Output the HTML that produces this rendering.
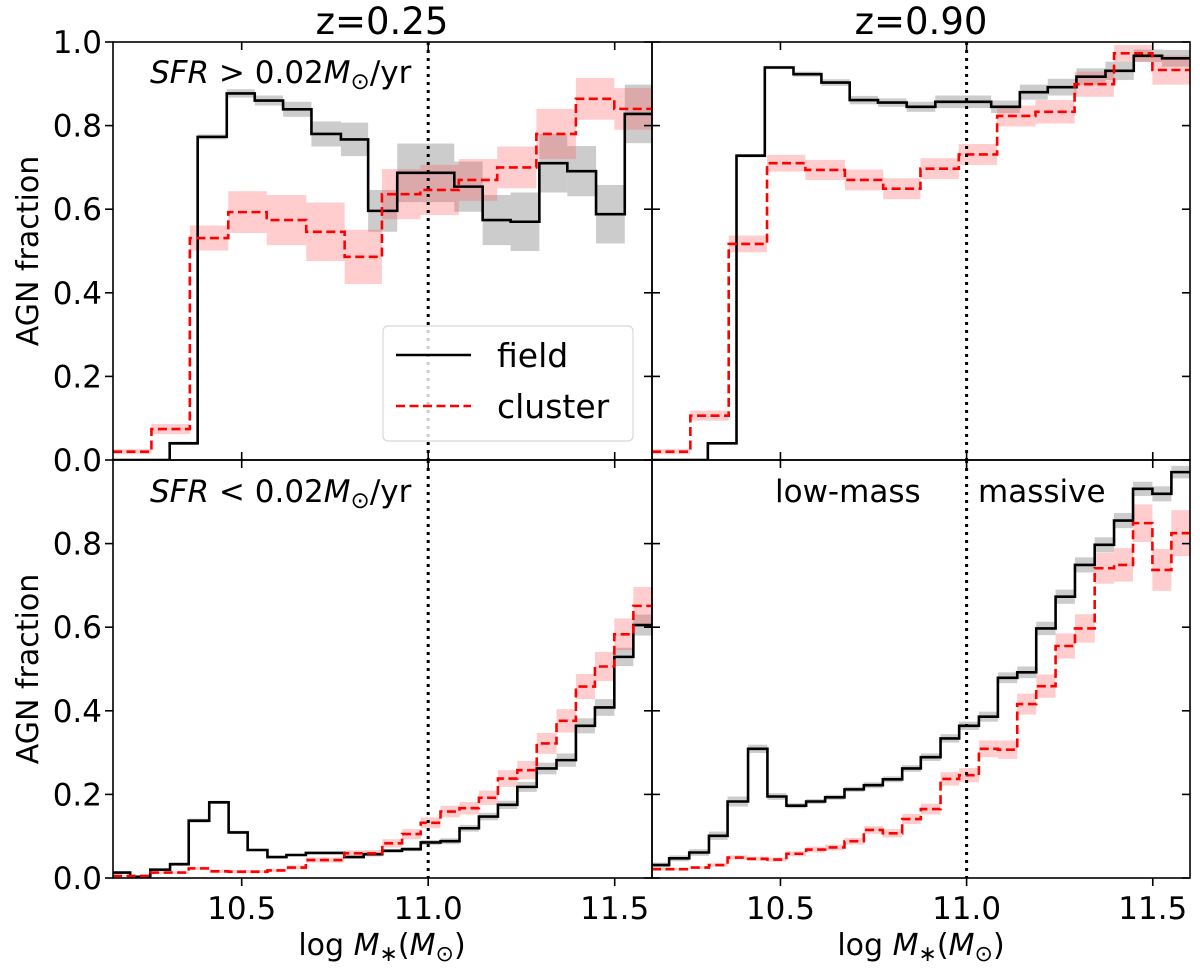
<!DOCTYPE html>
<html><head><meta charset="utf-8">
<style>
html,body{margin:0;padding:0;background:#fff;}
svg{display:block;font-family:"DejaVu Sans","Liberation Sans",sans-serif;}
</style></head>
<body>
<svg id="chart" width="1200" height="969" viewBox="0 0 1200 969" xmlns="http://www.w3.org/2000/svg"></svg>
<script>
// ---- data ----
const xTicks = [10.5, 11.0, 11.5];
const xTickLabels = ["10.5", "11.0", "11.5"];
const yTicksTop = [0, 0.2, 0.4, 0.6, 0.8, 1.0];
const yTickLabelsTop = ["0.0", "0.2", "0.4", "0.6", "0.8", "1.0"];
const yTicksBot = [0, 0.2, 0.4, 0.6, 0.8];
const yTickLabelsBot = ["0.0", "0.2", "0.4", "0.6", "0.8"];

const edgesTL_field = [10.155,10.307,10.382,10.460,10.535,10.611,10.687,10.766,10.839,10.917,11.070,11.146,11.221,11.298,11.373,11.450,11.527,11.6];
const valsTL_field = [0,0.04,0.773,0.877,0.86,0.839,0.78,0.767,0.596,0.687,0.654,0.574,0.57,0.71,0.691,0.588,0.828];
const errsTL_field = [0,0.004,0.006,0.01,0.012,0.018,0.03,0.04,0.05,0.07,0.06,0.06,0.07,0.07,0.06,0.07,0.07];

const edgesTop_cluster = [10.155,10.258,10.361,10.464,10.567,10.673,10.776,10.876,10.979,11.082,11.185,11.290,11.396,11.499,11.6];
const valsTL_cluster = [0.02,0.074,0.531,0.593,0.574,0.546,0.486,0.636,0.646,0.67,0.70,0.78,0.864,0.84];
const errsTL_cluster = [0.006,0.012,0.03,0.05,0.06,0.07,0.065,0.06,0.06,0.05,0.05,0.06,0.05,0.05];

const edgesTR_field = [10.155,10.305,10.382,10.458,10.535,10.610,10.686,10.762,10.839,10.916,11.066,11.143,11.218,11.295,11.373,11.449,11.525,11.6];
const valsTR_field = [0,0.04,0.728,0.939,0.923,0.903,0.861,0.855,0.845,0.857,0.845,0.88,0.892,0.917,0.931,0.967,0.961];
const errsTR_field = [0,0.003,0.004,0.004,0.006,0.008,0.01,0.01,0.012,0.015,0.015,0.018,0.02,0.02,0.022,0.015,0.02];

const valsTR_cluster = [0.02,0.106,0.517,0.71,0.694,0.67,0.649,0.697,0.731,0.823,0.833,0.899,0.973,0.933];
const errsTR_cluster = [0.006,0.012,0.02,0.02,0.024,0.025,0.025,0.025,0.025,0.025,0.028,0.03,0.02,0.035];

const edgesBot = [10.155,10.201,10.255,10.308,10.358,10.413,10.465,10.516,10.569,10.620,10.672,10.724,10.775,10.827,10.877,10.930,10.980,11.033,11.084,11.136,11.187,11.239,11.291,11.344,11.396,11.447,11.499,11.550,11.6];
const valsBL_field = [0.013,0.003,0.02,0.033,0.137,0.181,0.109,0.067,0.05,0.055,0.06,0.06,0.05,0.057,0.065,0.069,0.085,0.088,0.119,0.147,0.175,0.218,0.262,0.282,0.364,0.408,0.529,0.605];
const errsBL_field = [0.003,0.002,0.003,0.004,0.005,0.004,0.004,0.003,0.003,0.003,0.003,0.003,0.003,0.004,0.004,0.005,0.006,0.007,0.008,0.009,0.01,0.012,0.014,0.016,0.018,0.02,0.022,0.025];
const valsBL_cluster = [0.005,0.005,0.013,0.013,0.023,0.016,0.015,0.015,0.018,0.025,0.043,0.043,0.059,0.059,0.083,0.105,0.132,0.159,0.167,0.192,0.238,0.258,0.322,0.376,0.458,0.506,0.583,0.651];
const errsBL_cluster = [0.002,0.002,0.003,0.003,0.004,0.004,0.004,0.004,0.004,0.005,0.006,0.006,0.007,0.008,0.01,0.012,0.013,0.014,0.015,0.017,0.02,0.022,0.025,0.028,0.03,0.035,0.038,0.045];

const valsBR_field = [0.031,0.047,0.061,0.101,0.183,0.309,0.195,0.173,0.183,0.193,0.212,0.222,0.236,0.262,0.289,0.334,0.364,0.386,0.479,0.492,0.597,0.673,0.749,0.797,0.855,0.931,0.919,0.971];
const errsBR_field = [0.006,0.007,0.008,0.01,0.012,0.01,0.008,0.006,0.006,0.006,0.006,0.007,0.007,0.008,0.009,0.01,0.01,0.012,0.013,0.014,0.016,0.017,0.018,0.018,0.018,0.017,0.018,0.015];
const valsBR_cluster = [0.021,0.021,0.025,0.031,0.049,0.046,0.044,0.058,0.068,0.073,0.088,0.115,0.107,0.141,0.165,0.237,0.246,0.309,0.307,0.416,0.459,0.555,0.597,0.741,0.749,0.849,0.737,0.825];
const errsBR_cluster = [0.003,0.003,0.003,0.004,0.005,0.005,0.005,0.006,0.007,0.007,0.008,0.009,0.01,0.012,0.013,0.016,0.017,0.02,0.022,0.025,0.028,0.03,0.034,0.037,0.04,0.045,0.05,0.055];

// ---- layout ----
const NS = "http://www.w3.org/2000/svg";
const svg = document.getElementById("chart");
const XMIN = 10.155, XMAX = 11.6;
const panels = [
  {name:"top-left", x0:113, x1:652, y0:42, y1:460, ymax:1.0, fe:edgesTL_field, fv:valsTL_field, ferr:errsTL_field, ce:edgesTop_cluster, cv:valsTL_cluster, cerr:errsTL_cluster, left:true, bottom:false},
  {name:"top-right", x0:652, x1:1190, y0:42, y1:460, ymax:1.0, fe:edgesTR_field, fv:valsTR_field, ferr:errsTR_field, ce:edgesTop_cluster, cv:valsTR_cluster, cerr:errsTR_cluster, left:false, bottom:false},
  {name:"bottom-left", x0:113, x1:652, y0:460, y1:878, ymax:1.0, fe:edgesBot, fv:valsBL_field, ferr:errsBL_field, ce:edgesBot, cv:valsBL_cluster, cerr:errsBL_cluster, left:true, bottom:true},
  {name:"bottom-right", x0:652, x1:1190, y0:460, y1:878, ymax:1.0, fe:edgesBot, fv:valsBR_field, ferr:errsBR_field, ce:edgesBot, cv:valsBR_cluster, cerr:errsBR_cluster, left:false, bottom:true}
];
function mk(tag, attrs, parent){const e=document.createElementNS(NS,tag);for(const k in attrs)e.setAttribute(k,attrs[k]);(parent||svg).appendChild(e);return e;}

panels.forEach(p=>{
  const sx = m => p.x0 + (m - XMIN)/(XMAX - XMIN)*(p.x1 - p.x0);
  const sy = v => p.y1 - v/p.ymax*(p.y1 - p.y0);
  const g = mk("g",{});
  
  
  const clipId = "clip-"+p.name;
  const cp = mk("clipPath",{id:clipId},g);
  mk("rect",{x:p.x0,y:p.y0,width:p.x1-p.x0,height:p.y1-p.y0},cp);
  const plot = mk("g",{"clip-path":"url(#"+clipId+")"},g);
  function bands(edges, vals, errs, color, label){
    for(let i=0;i<vals.length;i++){
      if(errs[i]<=0) continue;
      const r = mk("rect",{x:sx(edges[i]),y:sy(vals[i]+errs[i]),width:sx(edges[i+1])-sx(edges[i]),height:sy(vals[i]-errs[i])-sy(vals[i]+errs[i]),fill:color},plot);
      
      
    }
  }
  function steps(edges, vals, color, dash, label){
    let d = "";
    for(let i=0;i<vals.length;i++){
      d += (i===0?"M":"L") + sx(edges[i]) + " " + sy(vals[i]) + " L" + sx(edges[i+1]) + " " + sy(vals[i]) + " ";
    }
    const path = mk("path",{d:d,fill:"none",stroke:color,"stroke-width":2.6,"stroke-dasharray":dash||"none","stroke-linejoin":"miter"},plot);
    
    
  }
  bands(p.fe, p.fv, p.ferr, "rgba(128,128,128,0.4)", "field");
  bands(p.ce, p.cv, p.cerr, "rgba(255,90,90,0.3)", "cluster");
  steps(p.fe, p.fv, "#000", null, "field");
  steps(p.ce, p.cv, "#ff0000", "9,4.5", "cluster");
  const vl = mk("line",{x1:sx(11.0),x2:sx(11.0),y1:p.y0,y2:p.y1,stroke:"#000","stroke-width":3,"stroke-dasharray":"3,5"},g);
  
  
  const fr = mk("rect",{x:p.x0,y:p.y0,width:p.x1-p.x0,height:p.y1-p.y0,fill:"none",stroke:"#000","stroke-width":1.6},g);
  
  
  xTicks.forEach((t,i)=>{
    const x = sx(t);
    if(p.bottom){
      mk("line",{x1:x,x2:x,y1:p.y1,y2:p.y1+8,stroke:"#000","stroke-width":1.6},g);
      const tl = mk("text",{x:x,y:p.y1+41,"font-size":31,"text-anchor":"middle"},g);
      tl.textContent = xTickLabels[i];
      
      
    } else {
      mk("line",{x1:x,x2:x,y1:p.y1,y2:p.y1-8,stroke:"#000","stroke-width":1.6},g);
    }
    mk("line",{x1:x,x2:x,y1:p.y0,y2:p.y0+8,stroke:"#000","stroke-width":1.6},g);
  });
  const yt = p.bottom ? yTicksBot : yTicksTop;
  const ytl = p.bottom ? yTickLabelsBot : yTickLabelsTop;
  yt.forEach((t,i)=>{
    const y = sy(t);
    if(p.left){
      mk("line",{x1:p.x0-8,x2:p.x0,y1:y,y2:y,stroke:"#000","stroke-width":1.6},g);
      const tl = mk("text",{x:p.x0-11,y:y+11,"font-size":31,"text-anchor":"end"},g);
      tl.textContent = ytl[i];
      
      
      mk("line",{x1:p.x1-8,x2:p.x1,y1:y,y2:y,stroke:"#000","stroke-width":1.6},g);
    } else {
      mk("line",{x1:p.x0,x2:p.x0+8,y1:y,y2:y,stroke:"#000","stroke-width":1.6},g);
      mk("line",{x1:p.x1-8,x2:p.x1,y1:y,y2:y,stroke:"#000","stroke-width":1.6},g);
    }
  });
});
</script>
<script>
(function(){
  const NS="http://www.w3.org/2000/svg";
  const svg=document.getElementById("chart");
  function txt(s,attrs,name){const e=document.createElementNS(NS,"text");for(const k in attrs)e.setAttribute(k,attrs[k]);e.innerHTML=s;
    
    
    svg.appendChild(e);return e;}
  txt("z=0.25",{x:382,y:34,"font-size":37,"text-anchor":"middle"},"title-z025");
  txt("z=0.90",{x:921,y:34,"font-size":37,"text-anchor":"middle"},"title-z090");
  txt("AGN fraction",{x:0,y:0,"font-size":30,"text-anchor":"middle",transform:"translate(38,251) rotate(-90)"},"y-axis-title-top");
  txt("AGN fraction",{x:0,y:0,"font-size":30,"text-anchor":"middle",transform:"translate(38,669) rotate(-90)"},"y-axis-title-bottom");
  txt('log <tspan font-style="italic">M</tspan><tspan font-size="22" dy="6">∗</tspan><tspan dy="-6">(</tspan><tspan font-style="italic">M</tspan><tspan font-size="22" dy="6">⊙</tspan><tspan dy="-6">)</tspan>',{x:382,y:955,"font-size":30,"text-anchor":"middle"},"x-axis-title-left");
  txt('log <tspan font-style="italic">M</tspan><tspan font-size="22" dy="6">∗</tspan><tspan dy="-6">(</tspan><tspan font-style="italic">M</tspan><tspan font-size="22" dy="6">⊙</tspan><tspan dy="-6">)</tspan>',{x:921,y:955,"font-size":30,"text-anchor":"middle"},"x-axis-title-right");
  txt('<tspan font-style="italic">SFR</tspan> &gt; 0.02<tspan font-style="italic">M</tspan><tspan font-size="23" dy="6">⊙</tspan><tspan dy="-6">/yr</tspan>',{x:150,y:83,"font-size":31},"sfr-high-label");
  txt('<tspan font-style="italic">SFR</tspan> &lt; 0.02<tspan font-style="italic">M</tspan><tspan font-size="23" dy="6">⊙</tspan><tspan dy="-6">/yr</tspan>',{x:150,y:502,"font-size":31},"sfr-low-label");
  txt("low-mass",{x:775,y:502,"font-size":31},"low-mass-label");
  txt("massive",{x:978,y:502,"font-size":31},"massive-label");
  const lg=document.createElementNS(NS,"g");
  
  
  svg.appendChild(lg);
  lg.innerHTML='<rect x="383" y="326" width="250" height="115" rx="5" fill="rgba(255,255,255,0.8)" stroke="#d8d8d8" stroke-width="1.2"/>'+
   '<line x1="396" y1="355" x2="471" y2="355" stroke="#000" stroke-width="2.6"/>'+
   '<line x1="396" y1="406" x2="471" y2="406" stroke="#ff0000" stroke-width="2.6" stroke-dasharray="9,4.5"/>'+
   '<text x="497" y="367" font-size="33">field</text>'+
   '<text x="497" y="418" font-size="33">cluster</text>';
})();
</script>
</body></html>
